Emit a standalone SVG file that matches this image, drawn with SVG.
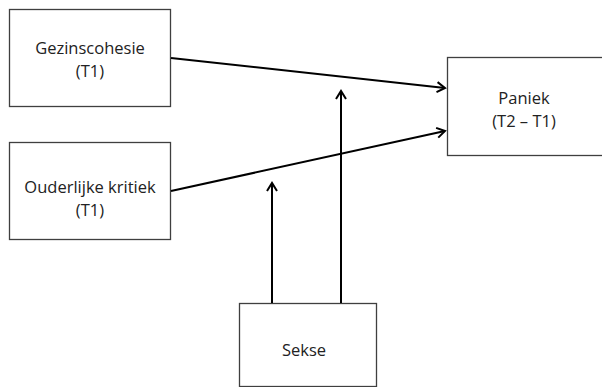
<svg xmlns="http://www.w3.org/2000/svg" width="602" height="387" viewBox="0 0 602 387">
<defs>
<style>
.box{fill:#fff;stroke:#3f3f3f;stroke-width:1.3}
.t{font-family:"Open Sans","Liberation Sans",sans-serif;font-size:16.5px;fill:#222;text-anchor:middle}
.c{fill:none;stroke:#000;stroke-width:2}
</style>
<marker id="a" markerWidth="12" markerHeight="12" refX="10" refY="6" orient="auto" markerUnits="userSpaceOnUse">
<path d="M2,1 L10,6 L2,11" fill="none" stroke="#000" stroke-width="2"/>
</marker>
</defs>
<rect width="602" height="387" fill="#fff"/>
<g id="gezinscohesie"><rect class="box" x="9.5" y="9.5" width="161" height="97"/><text class="t" x="90" y="54">Gezinscohesie</text><text class="t" x="90" y="77">(T1)</text></g>
<g id="ouderlijke"><rect class="box" x="9.5" y="142.5" width="161" height="97"/><text class="t" x="90" y="193">Ouderlijke kritiek</text><text class="t" x="90" y="216">(T1)</text></g>
<g id="paniek"><rect class="box" x="447.5" y="57.5" width="160" height="98"/><text class="t" x="524" y="104">Paniek</text><text class="t" x="524" y="127">(T2 – T1)</text></g>
<g id="sekse"><rect class="box" x="239.5" y="303.5" width="137" height="83"/><text class="t" x="304" y="356">Sekse</text></g>
<g id="connectors">
<line class="c" x1="171" y1="58" x2="445" y2="88" marker-end="url(#a)"/>
<line class="c" x1="171" y1="191" x2="445" y2="131" marker-end="url(#a)"/>
<line class="c" x1="341" y1="303" x2="341" y2="91" marker-end="url(#a)"/>
<line class="c" x1="272" y1="303" x2="272" y2="183" marker-end="url(#a)"/>
</g>
</svg>
